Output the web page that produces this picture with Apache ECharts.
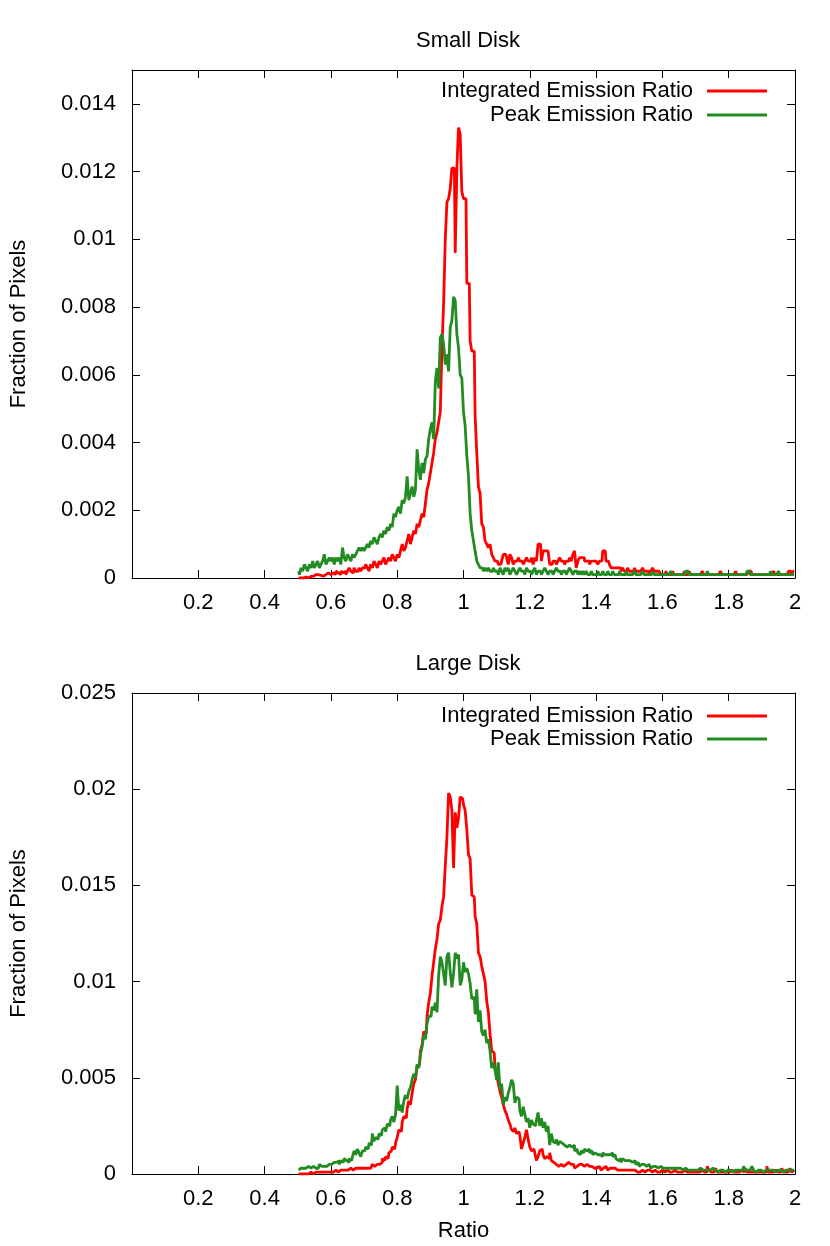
<!DOCTYPE html>
<html>
<head>
<meta charset="utf-8">
<title>Small Disk / Large Disk</title>
<script src="https://cdn.jsdelivr.net/npm/echarts@6/dist/echarts.min.js"></script>
<style>
  html, body { margin: 0; padding: 0; background: #fff; }
  #chart { width: 830px; height: 1246px; }
</style>
</head>
<body>
<div id="chart"></div>
<script>
// histogram bins: 0.500 .. 2.000, width 0.005 (one row = 0.1 of ratio)
const binStart = 0.5
const binWidth = 0.005

const xTicks = { min: 0, max: 2, interval: 0.2 }

// Small disk, integrated emission ratio
const smallIntegrated = [
  0,0,0,0,.00003,.00005,0,.00005,.00008,.00005,.0001,.00005,.0001,.00008,.0001,.00005,.0001,.0001,.00015,.0001,
  .0001,.00015,.0001,.0002,.00015,.0001,.0002,.00015,.0002,.0001,.0002,.0003,.0002,.00015,.0003,.0002,.0002,.0003,.0002,.0003,
  .0003,.0004,.0003,.0002,.0004,.0003,.0005,.0004,.0003,.0005,.0004,.0005,.0006,.0004,.0005,.0006,.0005,.0007,.0006,.0005,
  .0007,.0006,.0008,.0010,.0008,.0009,.0011,.0013,.0010,.0012,.0014,.0013,.0016,.0015,.0017,.0019,.0018,.0022,.0026,.0028,
  .0031,.0034,.0037,.0041,.0043,.0046,.0049,.0068,.0081,.0100,.0111,.0112,.0115,.0121,.0121,.0096,.0121,.0133,.0131,.0114,
  .0112,.0112,.0087,.0087,.0070,.0067,.0067,.0048,.0037,.0027,.0025,.0016,.0015,.0011,.0010,.0009,.0010,.0007,.0006,.0005,
  .0005,.0004,.0004,.0005,.0007,.0007,.0006,.0004,.0007,.0006,.0004,.0005,.0005,.0006,.0005,.0005,.0004,.0005,.0006,.0005,
  .0005,.0006,.0004,.0006,.0005,.0010,.0010,.0005,.0008,.0008,.0008,.0008,.0004,.0004,.0005,.0005,.0004,.0005,.0006,.0005,
  .0005,.0004,.0005,.0005,.0006,.0005,.0007,.0008,.0003,.0005,.0006,.0006,.0006,.0005,.0005,.0005,.0004,.0005,.0005,.0005,
  .0005,.0004,.0005,.0005,.0008,.0008,.0005,.0005,.0004,.0003,.0003,.0003,.0003,.0003,.0003,.0002,.0003,.0002,.0002,.0003,
  .0002,.0002,.0002,.0003,.0002,.0002,.0002,.0002,.0003,.0002,.0002,.0002,.0001,.0002,.0003,.0002,.0002,.0002,.0002,.0001,
  .0001,.0001,.0002,.0001,.0001,.0001,.0002,.0001,.0001,.0001,.0001,.0001,.0001,.0002,.0001,.0001,.0002,.0001,.0001,.0001,
  .0001,.0001,.0001,.0001,.0002,.0001,.0001,.0001,.0001,.0001,.0001,.0001,.0001,.0001,.0001,.0002,.0001,.0001,.0001,.0001,
  .0001,.0001,.0001,.0001,.0002,.0001,.0001,.0001,.0001,.0001,.0001,.0001,.0002,.0002,.0001,.0001,.0001,.0001,.0001,.0001,
  .0001,.0001,.0001,.0001,.0001,.0001,.0001,.0002,.0001,.0001,.0001,.0001,.0001,.0001,.0001,.0001,.0002,.0002,.0001,.0002
]

// Small disk, peak emission ratio
const smallPeak = [
  .0002,.0001,.0003,.0002,.0004,.0003,.0002,.0004,.0003,.0005,.0003,.0004,.0005,.0003,.0004,.0005,.0007,.0004,.0005,.0006,
  .0005,.0006,.0004,.0006,.0005,.0006,.0004,.0009,.0006,.0005,.0007,.0006,.0005,.0007,.0006,.0007,.0008,.0009,.0008,.0009,
  .0008,.0009,.0010,.0009,.0011,.0010,.0012,.0011,.0010,.0012,.0013,.0012,.0014,.0013,.0015,.0014,.0016,.0015,.0019,.0018,
  .0020,.0021,.0019,.0023,.0022,.0024,.0030,.0023,.0025,.0027,.0024,.0026,.0038,.0032,.0029,.0034,.0031,.0035,.0036,.0041,
  .0044,.0046,.0041,.0058,.0062,.0056,.0071,.0072,.0069,.0063,.0066,.0061,.0074,.0076,.0083,.0082,.0072,.0068,.0060,.0059,
  .0049,.0045,.0036,.0030,.0019,.0014,.0011,.0008,.0005,.0004,.0003,.0003,.0002,.0003,.0002,.0003,.0002,.0002,.0003,.0002,
  .0002,.0001,.0003,.0002,.0001,.0003,.0002,.0003,.0001,.0002,.0003,.0002,.0001,.0002,.0003,.0002,.0002,.0001,.0003,.0002,
  .0002,.0001,.0002,.0003,.0001,.0002,.0002,.0001,.0002,.0003,.0002,.0001,.0002,.0002,.0001,.0002,.0003,.0002,.0002,.0001,
  .0002,.0002,.0001,.0002,.0003,.0002,.0001,.0002,.0002,.0001,.0002,.0001,.0002,.0001,.0002,.0001,.0001,.0002,.0001,.0001,
  .0001,.0002,.0001,.0001,.0002,.0001,.0001,.0002,.0001,.0001,.0002,.0001,.0001,.0001,.0002,.0001,.0001,.0001,.0002,.0001,
  .0001,.0001,.0001,.0002,.0001,.0001,.0001,.0001,.0002,.0001,.0001,.0001,.0001,.0001,.0002,.0001,.0001,.0001,.0001,.0001,
  .0001,.0001,.0001,.0001,.0001,.0002,.0001,.0001,.0001,.0001,.0001,.0001,.0001,.0001,.0002,.0002,.0001,.0001,.0001,.0001,
  .0001,.0001,.0001,.0001,.0001,.0001,.0001,.0002,.0001,.0001,.0001,.0001,.0001,.0001,.0001,.0001,.0001,.0001,.0001,.0001,
  .0001,.0001,.0001,.0001,.0001,.0001,.0001,.0001,.0001,.0001,.0001,.0002,.0002,.0001,.0001,.0001,.0001,.0001,.0001,.0001,
  .0001,.0001,.0001,.0001,.0001,.0002,.0001,.0001,.0001,.0001,.0002,.0001,.0001,.0001,.0001,.0001,.0001,.0001,.0001,.0001
]

// Large disk, integrated emission ratio
const largeIntegrated = [
  0,0,.0001,0,0,.0001,0,.0001,0,0,.0001,0,.0001,.0001,0,.0001,.0001,0,.0001,.0001,
  .0001,.0001,.0002,.0001,.0001,.0002,.0001,.0002,.0002,.0001,.0002,.0003,.0002,.0002,.0003,.0002,.0003,.0003,.0002,.0003,
  .0003,.0004,.0003,.0003,.0004,.0005,.0004,.0005,.0006,.0005,.0006,.0008,.0007,.0009,.0008,.0011,.0012,.0014,.0013,.0016,
  .0019,.0023,.0022,.0027,.0030,.0029,.0034,.0038,.0036,.0042,.0047,.0049,.0056,.0057,.0064,.0067,.0074,.0073,.0082,.0089,
  .0094,.0103,.0110,.0117,.0122,.0130,.0132,.0139,.0144,.0160,.0175,.0198,.0196,.0189,.0159,.0188,.0180,.0185,.0196,.0195,
  .0192,.0189,.0179,.0166,.0164,.0145,.0144,.0134,.0130,.0115,.0113,.0108,.0104,.0100,.0090,.0084,.0073,.0064,.0063,.0056,
  .0052,.0047,.0043,.0040,.0036,.0033,.0031,.0028,.0026,.0023,.0022,.0024,.0021,.0022,.0020,.0013,.0016,.0019,.0023,.0018,
  .0014,.0012,.0013,.0011,.0007,.0009,.0012,.0013,.0010,.0008,.0009,.0008,.0011,.0007,.0006,.0005,.0006,.0004,.0005,.0006,
  .0004,.0005,.0004,.0006,.0005,.0004,.0005,.0003,.0004,.0005,.0004,.0005,.0004,.0003,.0005,.0004,.0005,.0004,.0003,.0004,
  .0003,.0004,.0003,.0002,.0003,.0004,.0003,.0002,.0003,.0003,.0002,.0003,.0002,.0003,.0002,.0002,.0003,.0002,.0002,.0001,
  .0002,.0002,.0001,.0002,.0001,.0002,.0001,.0002,.0001,.0001,.0002,.0001,.0002,.0001,.0001,.0002,.0001,.0001,.0001,.0002,
  .0001,.0001,.0002,.0001,.0001,.0001,.0001,.0002,.0001,.0001,.0001,.0001,.0001,.0002,.0001,.0001,.0001,.0001,.0002,.0001,
  .0001,.0001,.0001,.0002,.0001,.0001,.0001,.0004,.0002,.0001,.0001,.0001,.0003,.0001,.0001,.0001,.0002,.0001,.0001,.0001,
  .0001,.0002,.0001,.0001,.0001,.0001,.0001,.0002,.0001,.0001,.0003,.0001,.0001,.0001,.0002,.0001,.0001,.0001,.0001,.0001,
  .0001,.0001,.0001,.0004,.0001,.0001,.0001,.0001,.0002,.0001,.0001,.0001,.0003,.0001,.0001,.0001,.0002,.0003,.0001,.0002
]

// Large disk, peak emission ratio
const largePeak = [
  .0002,.0003,.0002,.0003,.0003,.0002,.0004,.0003,.0003,.0004,.0003,.0004,.0003,.0005,.0004,.0004,.0005,.0004,.0005,.0004,
  .0005,.0006,.0005,.0006,.0007,.0005,.0007,.0006,.0008,.0007,.0006,.0008,.0007,.0009,.0012,.0010,.0013,.0011,.0009,.0012,
  .0012,.0014,.0013,.0016,.0015,.0021,.0017,.0019,.0018,.0021,.0020,.0023,.0024,.0022,.0026,.0025,.0028,.0030,.0027,.0031,
  .0046,.0033,.0036,.0032,.0038,.0041,.0039,.0043,.0045,.0049,.0052,.0050,.0057,.0055,.0062,.0066,.0072,.0070,.0078,.0082,
  .0082,.0087,.0085,.0089,.0084,.0103,.0113,.0110,.0104,.0098,.0113,.0115,.0105,.0097,.0104,.0115,.0112,.0114,.0098,.0101,
  .0110,.0105,.0107,.0104,.0099,.0091,.0092,.0083,.0096,.0079,.0085,.0074,.0072,.0075,.0068,.0070,.0064,.0055,.0058,.0054,
  .0049,.0058,.0044,.0047,.0036,.0040,.0038,.0042,.0045,.0049,.0047,.0037,.0040,.0039,.0033,.0030,.0035,.0031,.0027,.0029,
  .0024,.0028,.0026,.0025,.0028,.0032,.0025,.0029,.0024,.0027,.0022,.0025,.0015,.0021,.0017,.0016,.0018,.0015,.0017,.0016,
  .0015,.0016,.0014,.0015,.0016,.0014,.0015,.0012,.0013,.0011,.0010,.0012,.0011,.0013,.0012,.0013,.0011,.0012,.0010,.0011,
  .0010,.0011,.0010,.0009,.0011,.0010,.0010,.0009,.0010,.0011,.0009,.0010,.0008,.0007,.0008,.0006,.0008,.0007,.0007,.0006,
  .0007,.0006,.0007,.0007,.0005,.0006,.0004,.0005,.0005,.0004,.0004,.0005,.0004,.0003,.0004,.0004,.0005,.0003,.0004,.0003,
  .0003,.0003,.0004,.0003,.0003,.0002,.0003,.0003,.0004,.0003,.0003,.0003,.0002,.0003,.0003,.0002,.0002,.0003,.0002,.0002,
  .0002,.0002,.0003,.0002,.0002,.0002,.0001,.0002,.0002,.0002,.0003,.0002,.0002,.0001,.0002,.0002,.0002,.0001,.0002,.0002,
  .0002,.0002,.0001,.0002,.0002,.0002,.0002,.0002,.0002,.0004,.0002,.0002,.0002,.0002,.0004,.0002,.0001,.0002,.0002,.0002,
  .0001,.0002,.0002,.0002,.0001,.0002,.0002,.0002,.0001,.0002,.0002,.0002,.0001,.0002,.0002,.0002,.0001,.0002,.0002,.0002
]

const FONT = "'Liberation Sans', Arial, sans-serif"
const RED = '#ff0000'
const GREEN = '#228b22'

const toBins = (values) => values.map((v, i) => [binStart + binWidth * (i + 0.5), v])

const baseText = { color: '#000', fontFamily: FONT, fontSize: 22 }

const tick = { show: true, inside: true, length: 8, lineStyle: { color: '#000', width: 1 } }
const frameLine = { show: true, onZero: false, lineStyle: { color: '#000', width: 1 } }

const makeX = (gridIndex, position, withLabels, name) => ({
  type: 'value',
  gridIndex,
  position,
  ...xTicks,
  name: name || '',
  nameLocation: 'middle',
  nameGap: 46,
  nameTextStyle: baseText,
  axisLine: frameLine,
  axisTick: tick,
  splitLine: { show: false },
  axisLabel: withLabels
    ? { ...baseText, margin: 14, showMinLabel: false }
    : { show: false }
})

const makeY = (gridIndex, position, max, interval, withLabels, hideMax) => ({
  type: 'value',
  gridIndex,
  position,
  min: 0,
  max,
  interval,
  name: withLabels ? 'Fraction of Pixels' : '',
  nameLocation: 'middle',
  nameRotate: 90,
  nameGap: 102,
  nameTextStyle: baseText,
  axisLine: frameLine,
  axisTick: tick,
  splitLine: { show: false },
  axisLabel: withLabels
    ? { ...baseText, margin: 16, showMaxLabel: !hideMax }
    : { show: false }
})

const makeLegend = (name, top) => ({
  data: [name],
  right: 63,
  top,
  padding: 0,
  align: 'right',
  icon: 'rect',
  itemWidth: 60,
  itemHeight: 3,
  selectedMode: false,
  textStyle: { ...baseText, padding: [0, 9, 0, 0] }
})

const makeSeries = (name, values, color, axisIndex, z) => ({
  name,
  type: 'line',
  step: 'middle',
  data: toBins(values),
  xAxisIndex: axisIndex,
  yAxisIndex: axisIndex,
  showSymbol: false,
  color,
  lineStyle: { color, width: 2.8 },
  z
})

const chart = echarts.init(document.getElementById('chart'), null, { renderer: 'canvas' })

chart.setOption({
  animation: false,
  backgroundColor: '#fff',
  title: [
    { text: 'Small Disk', left: 463, top: 25, textAlign: 'center', textStyle: { ...baseText, fontWeight: 'normal' } },
    { text: 'Large Disk', left: 463, top: 648, textAlign: 'center', textStyle: { ...baseText, fontWeight: 'normal' } }
  ],
  legend: [
    makeLegend('Integrated Emission Ratio', 80),
    makeLegend('Peak Emission Ratio', 104),
    makeLegend('Integrated Emission Ratio', 705),
    makeLegend('Peak Emission Ratio', 728)
  ],
  grid: [
    { left: 132, top: 70, width: 663, height: 508 },
    { left: 132, top: 693, width: 663, height: 481 }
  ],
  xAxis: [
    makeX(0, 'bottom', true),
    makeX(0, 'top', false),
    makeX(1, 'bottom', true, 'Ratio'),
    makeX(1, 'top', false)
  ],
  yAxis: [
    makeY(0, 'left', 0.015, 0.002, true, true),
    makeY(0, 'right', 0.015, 0.002, false),
    makeY(1, 'left', 0.025, 0.005, true, false),
    makeY(1, 'right', 0.025, 0.005, false)
  ],
  series: [
    makeSeries('Integrated Emission Ratio', smallIntegrated, RED, 0, 2),
    makeSeries('Peak Emission Ratio', smallPeak, GREEN, 0, 3),
    makeSeries('Integrated Emission Ratio', largeIntegrated, RED, 2, 2),
    makeSeries('Peak Emission Ratio', largePeak, GREEN, 2, 3)
  ]
})
</script>
</body>
</html>
